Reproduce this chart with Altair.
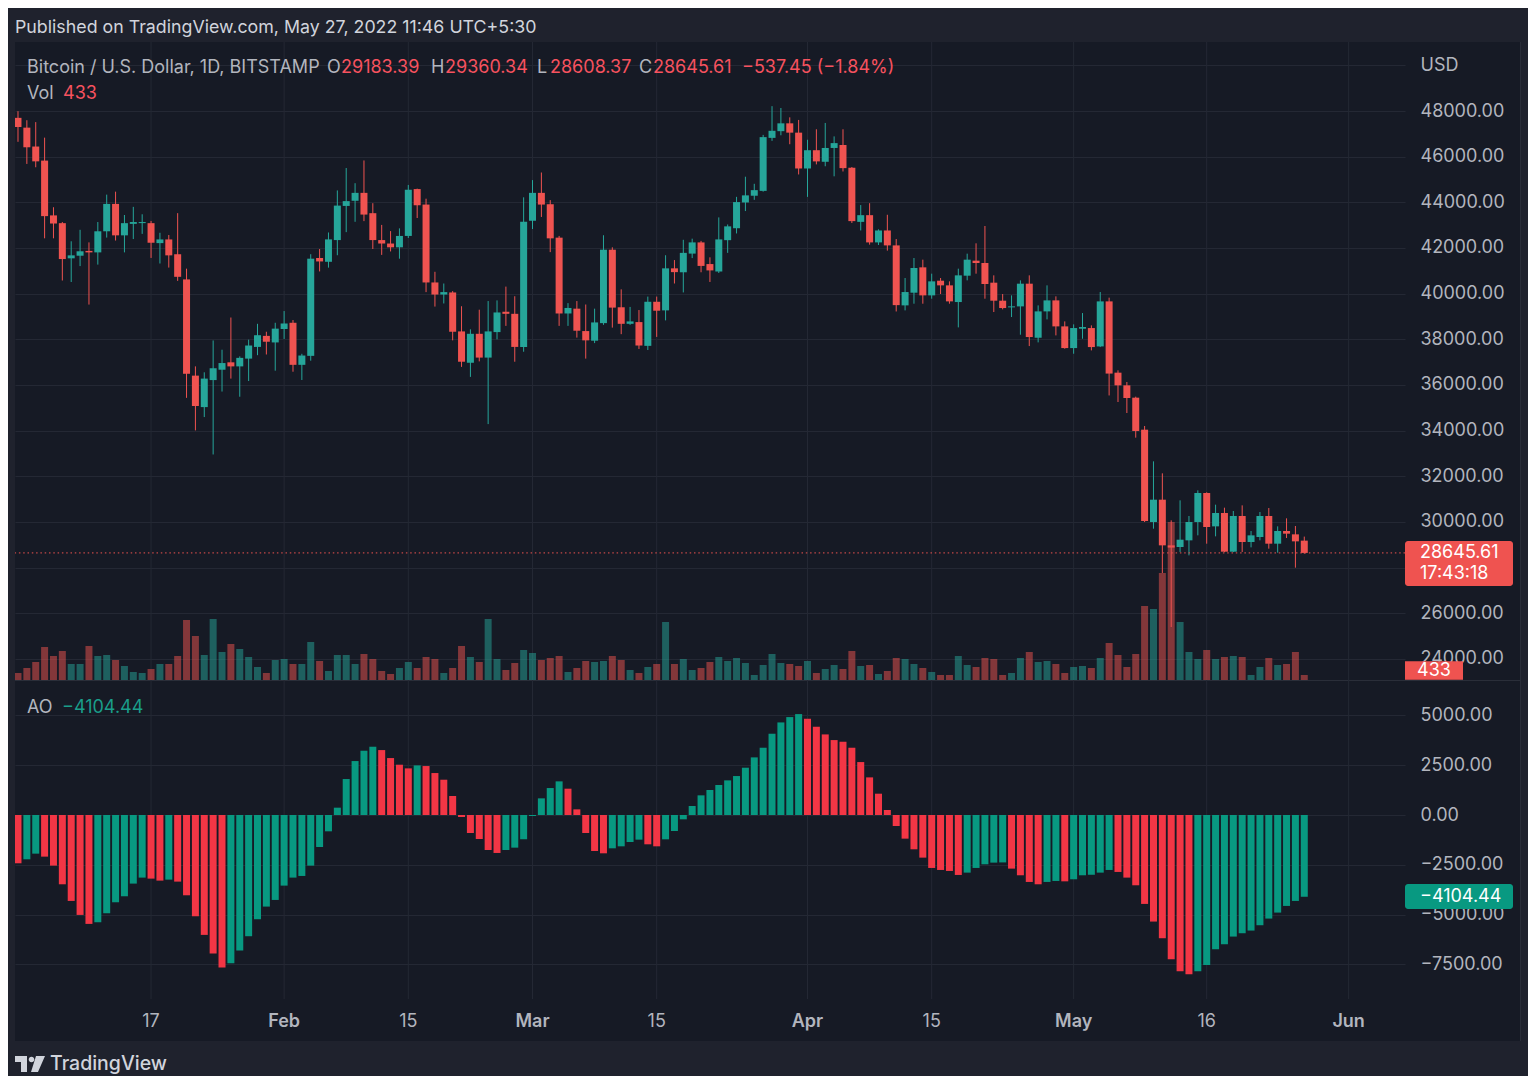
import altair as alt
import pandas as pd

# ---------------- data (BTC/USD daily, Bitstamp, 2 Jan - 27 May 2022) ----------------
dates = pd.date_range("2022-01-02", "2022-05-27", freq="D")
day = [(d - pd.Timestamp("2022-01-01")).days for d in dates]  # x position: days since 1 Jan

opens = [47700, 47271, 46444, 45828, 43428, 43088, 41548, 41662, 41872, 41808,
         42732, 43931, 42554, 43057, 43090, 43088, 42214, 42375, 41727, 40624,
         36410, 35032, 36215, 36669, 36993, 36815, 37155, 37668, 38151, 37864,
         38453, 38725, 36883, 37276, 41562, 41396, 42347, 43842, 44068, 44415,
         43525, 42347, 42196, 42030, 42528, 44581, 43902, 40491, 39962, 40053,
         38347, 36974, 38242, 37200, 38317, 39208, 39117, 37668, 43193, 44415,
         43917, 42453, 39132, 39343, 38362, 37940, 38710, 41925, 39404, 38679,
         38755, 37714, 39645, 39268, 41109, 40937, 41754, 42245, 41297, 40970,
         42343, 42866, 43994, 44289, 44501, 46823, 47117, 47460, 47052, 45482,
         46283, 45776, 46381, 46512, 45515, 43144, 43438, 42245, 42768, 42114,
         39487, 40042, 41153, 39925, 40568, 40364, 39633, 40787, 41445, 41343,
         40481, 39692, 39400, 39443, 40437, 38070, 39224, 39706, 38567, 37617,
         38465, 38494, 37690, 39662, 36540, 35985, 35445, 34043, 29999, 30977,
         28977, 28904, 29196, 29999, 31269, 29809, 30393, 28700, 30262, 29123,
         29342, 30262, 29050, 29605, 29459, 29183.39]
highs = [47990, 47595, 47514, 46833, 43785, 43137, 42294, 42797, 42246, 43137,
         44337, 44467, 43445, 43802, 43477, 43185, 42667, 42570, 43526, 41095,
         36815, 36556, 37950, 37545, 38955, 37253, 37985, 38679, 38332, 38725,
         39238, 38845, 37366, 41728, 41955, 42679, 44521, 45502, 44838, 45834,
         43962, 43011, 42740, 42860, 44762, 44600, 44159, 40958, 40445, 40113,
         39449, 38438, 39298, 39676, 39706, 40309, 39887, 44219, 44974, 45306,
         44098, 42528, 39585, 39676, 39525, 39343, 42558, 42030, 40189, 39419,
         39283, 39872, 39872, 41683, 41472, 42359, 42408, 42310, 41591, 43340,
         43030, 44240, 45122, 44812, 46954, 48212, 48131, 47722, 47608, 46741,
         47199, 47477, 46888, 47199, 45548, 43880, 43962, 42817, 43455, 42392,
         40685, 41562, 41489, 40875, 40685, 40539, 41094, 41752, 42205, 42964,
         40802, 39984, 39925, 40583, 40802, 39487, 40364, 39882, 38786, 38655,
         39151, 38611, 40071, 39825, 36642, 36131, 35489, 34204, 32656, 32131,
         30072, 30948, 30262, 31386, 31300, 30758, 30627, 30481, 30729, 29605,
         30437, 30612, 29809, 30160, 29824, 29360.34]
lows = [46650, 45682, 45536, 42424, 42424, 40576, 40511, 41208, 39522, 41273,
        42456, 42327, 41808, 42392, 42618, 41565, 41321, 41143, 40560, 35437,
        34011, 34595, 32957, 35713, 36280, 35486, 36174, 37306, 37336, 36627,
        38015, 36581, 36219, 37064, 40974, 41140, 41683, 42694, 43147, 43177,
        41955, 41698, 41849, 41532, 42438, 43313, 40068, 39434, 39570, 37955,
        36793, 36355, 37034, 34287, 38000, 38589, 37019, 37457, 42830, 43359,
        41819, 38589, 38589, 38075, 37155, 37834, 38634, 38513, 38226, 38634,
        37578, 37532, 38106, 38830, 40445, 40054, 41558, 40937, 40512, 40904,
        41787, 42637, 43618, 44109, 44468, 46692, 46937, 46545, 45221, 44239,
        45662, 45580, 45139, 45351, 43095, 42768, 42147, 42130, 41885, 39220,
        39268, 39560, 39560, 39779, 39984, 39560, 38523, 40583, 40875, 39779,
        39195, 39312, 38976, 38202, 37705, 37866, 38874, 38172, 37588, 37369,
        38026, 37515, 37661, 35542, 35255, 34773, 33693, 29999, 29707, 27765,
        25400, 28685, 28539, 29415, 29050, 29371, 28680, 28680, 28685, 28889,
        29196, 28831, 28656, 29298, 27999, 28608.37]
closes = [47300, 46411, 45795, 43396, 43072, 41516, 41678, 41856, 41808, 42732,
          43931, 42554, 43088, 43137, 43137, 42230, 42375, 41678, 40738, 36491,
          35081, 36280, 36734, 36961, 36815, 37188, 37729, 38181, 37895, 38468,
          38694, 36883, 37291, 41532, 41411, 42377, 43857, 44053, 44415, 43464,
          42347, 42196, 42030, 42528, 44551, 43872, 40491, 39962, 40068, 38332,
          37019, 38242, 37200, 38347, 39177, 39117, 37668, 43147, 44415, 43902,
          42423, 39132, 39374, 38377, 37955, 38740, 41925, 39389, 38679, 38785,
          37729, 39645, 39253, 41109, 40943, 41787, 42245, 41215, 41019, 42376,
          42948, 44011, 44305, 44534, 46856, 47133, 47460, 47052, 45482, 46283,
          45793, 46381, 46594, 45498, 43177, 43438, 42245, 42768, 42114, 39498,
          40071, 41123, 39925, 40539, 40364, 39662, 40802, 41489, 41343, 40422,
          39692, 39370, 39443, 40437, 38100, 39224, 39706, 38567, 37617, 38494,
          38538, 37661, 39662, 36500, 35985, 35430, 33985, 30043, 30977, 28977,
          28880, 29225, 29999, 31269, 29780, 30393, 28700, 30262, 29123, 29415,
          30262, 29050, 29605, 29488, 29152, 28645.61]
volumes = [609, 1044, 1566, 2871, 2088, 2523, 1392, 1392, 2958, 2088,
           2175, 1740, 1218, 696, 609, 957, 1392, 1392, 2088, 5220,
           3828, 2175, 5307, 2436, 3132, 2697, 2001, 1131, 609, 1740,
           1827, 1392, 1392, 3306, 1653, 783, 2175, 2175, 1392, 2262,
           1827, 783, 522, 1044, 1566, 1044, 2001, 1827, 609, 1044,
           2958, 2001, 1566, 5307, 1827, 870, 1479, 2610, 2349, 1740,
           1914, 2088, 696, 1044, 1653, 1566, 1653, 2088, 1740, 870,
           609, 1131, 1392, 5046, 1392, 1827, 870, 1044, 1566, 2001,
           1653, 1914, 1479, 435, 1305, 2262, 1479, 1392, 1218, 1653,
           609, 957, 1305, 957, 2523, 1218, 1305, 522, 783, 1914,
           1827, 1392, 1044, 696, 435, 435, 2088, 1305, 1131, 1914,
           1827, 435, 609, 1914, 2436, 1566, 1653, 1392, 609, 1131,
           1218, 1044, 1914, 3219, 2175, 1131, 2262, 6438, 6177, 9309,
           13746, 5046, 2436, 1827, 2610, 1827, 2001, 2088, 2001, 435,
           1131, 1914, 1305, 1392, 2436, 433]
ao = [-2424, -2224, -1940, -2090, -2541, -3478, -4314, -5016, -5467, -5384,
      -4932, -4381, -4080, -3444, -3143, -3194, -3294, -3244, -3344, -4030,
      -5083, -6019, -6956, -7658, -7440, -6805, -6086, -5233, -4598, -4264,
      -3545, -3143, -3060, -2541, -1605, -819, 368, 1806, 2709, 3227,
      3428, 3260, 2859, 2525, 2341, 2491, 2458, 2107, 1772, 953,
      -100, -903, -1204, -1756, -1906, -1756, -1639, -1221, -50, 836,
      1354, 1689, 1321, 284, -903, -1806, -1923, -1672, -1572, -1354,
      -1237, -1471, -1572, -1221, -803, -217, 451, 987, 1254, 1505,
      1739, 1956, 2374, 2893, 3377, 4080, 4648, 4916, 5066, 4832,
      4431, 4046, 3762, 3678, 3377, 2658, 1889, 1070, 251, -552,
      -1187, -1722, -2140, -2658, -2759, -2809, -3010, -2893, -2658, -2475,
      -2391, -2380, -2692, -3026, -3361, -3478, -3361, -3311, -3330, -3227,
      -3026, -3000, -2893, -2759, -2859, -3143, -3528, -4464, -5350, -6186,
      -7240, -7842, -7992, -7842, -7524, -6738, -6487, -6103, -5936, -5802,
      -5534, -5200, -4899, -4565, -4314, -4104.44]

x_tick_days = [16, 31, 45, 59, 73, 90, 104, 120, 135, 151]
x_tick_labels = ["17", "Feb", "15", "Mar", "15", "Apr", "15", "May", "16", "Jun"]
x_tick_is_month = [False, True, False, True, False, True, False, True, False, True]
price_ticks = list(range(24000, 50001, 2000))
ao_ticks = [-7500, -5000, -2500, 0, 2500, 5000]

last_price = 28645.61
last_volume = 433
last_ao = -4104.44

# ---------------- styling ----------------
FONT = "Inter"
FS = 18
BG_IN = "#161a25"
BG_OUT = "#1f222d"
GRID = "#242834"
SEP = "#2a2e39"
TXT = "#b2b5be"
TXT2 = "#d1d4dc"
UP = "#26a69a"
DOWN = "#ef5350"
AO_UP = "#089981"
AO_DOWN = "#f23645"
RED_T = "#f7525f"
GREEN_T = "#1a9e8a"

W, H = 1390, 957

df = pd.DataFrame({"d": day, "open": opens, "high": highs, "low": lows,
                   "close": closes, "vol": volumes, "ao": ao})
df["zero"] = 0
df["up"] = df["close"] >= df["open"]
df["ao_up"] = df["ao"].diff().fillna(-1) >= 0

ticks_df = pd.DataFrame({"d": x_tick_days, "lab": x_tick_labels, "month": x_tick_is_month})

x_scale = alt.Scale(domain=[1.227, 156.79], nice=False, zero=False)
price_scale = alt.Scale(domain=[23036, 51022], range=[639, 0], nice=False, zero=False)
vol_scale = alt.Scale(domain=[0, 55506], range=[638, 0], nice=False, zero=False)
ao_scale = alt.Scale(domain=[-9237, 6627], range=[957, 641], nice=False, zero=False)

price_axis = alt.Axis(orient="right", values=price_ticks,
                      labelExpr="datum.value == 50000 ? 'USD' : (datum.value == 28000 ? '' : format(datum.value, '.2f'))",
                      grid=True, gridColor=GRID, ticks=False, tickSize=0, domain=False,
                      labelColor=TXT, labelFont=FONT, labelFontSize=FS, labelPadding=15,
                      labelOverlap=False, title=None)
ao_axis = alt.Axis(orient="right", values=ao_ticks,
                   labelExpr="replace(format(datum.value, '.2f'), '-', '\u2212')",
                   grid=True, gridColor=GRID, ticks=False, tickSize=0, domain=False,
                   labelColor=TXT, labelFont=FONT, labelFontSize=FS, labelPadding=15,
                   labelOverlap=False, title=None)

base = alt.Chart(df)
X = alt.X("d:Q", scale=x_scale, axis=None)
cond_col = alt.condition("datum.up", alt.value(UP), alt.value(DOWN))

# vertical time grid + time labels (drawn through the x scale)
vgrid = alt.Chart(ticks_df).mark_rule(color=GRID, strokeWidth=1).encode(
    x=X, y=alt.value(0), y2=alt.value(H))
xlab_day = alt.Chart(ticks_df).transform_filter("!datum.month").mark_text(
    align="center", baseline="middle", font=FONT, fontSize=FS, color=TXT).encode(
    x=X, y=alt.value(H + 23), text="lab:N")
xlab_mon = alt.Chart(ticks_df).transform_filter("datum.month").mark_text(
    align="center", baseline="middle", font=FONT, fontSize=FS, fontWeight=600, color=TXT).encode(
    x=X, y=alt.value(H + 23), text="lab:N")

volume = base.mark_bar(size=7, opacity=0.5, clip=True).encode(
    x=X, y=alt.Y("vol:Q", scale=vol_scale, axis=None), y2="zero:Q", color=cond_col)
wicks = base.mark_rule(strokeWidth=1, clip=True).encode(
    x=X, y=alt.Y("low:Q", scale=price_scale, axis=price_axis), y2="high:Q", color=cond_col)
bodies = base.mark_bar(size=7, clip=True).encode(
    x=X, y=alt.Y("open:Q", scale=price_scale, axis=None), y2="close:Q", color=cond_col)
ao_bars = base.mark_bar(size=7, clip=True).encode(
    x=X, y=alt.Y("ao:Q", scale=ao_scale, axis=ao_axis), y2="zero:Q",
    color=alt.condition("datum.ao_up", alt.value(AO_UP), alt.value(AO_DOWN)))

pdf = pd.DataFrame({"p": [last_price]})
vdf = pd.DataFrame({"v": [last_volume]})
adf = pd.DataFrame({"a": [last_ao]})

last_line = alt.Chart(pdf).mark_rule(color=DOWN, strokeDash=[1.5, 2.8], strokeWidth=1).encode(
    y=alt.Y("p:Q", scale=price_scale, axis=None))
price_box = alt.Chart(pdf).mark_rect(color=DOWN, yOffset=-12, y2Offset=33, cornerRadius=3).encode(
    x=alt.value(W), x2=alt.value(W + 108),
    y=alt.Y("p:Q", scale=price_scale, axis=None), y2="p:Q")
price_txt1 = alt.Chart(pdf).mark_text(text="28645.61", align="left", baseline="middle", font=FONT,
                                      fontSize=FS, color="#ffffff").encode(
    x=alt.value(W + 15), y=alt.Y("p:Q", scale=price_scale, axis=None))
price_txt2 = alt.Chart(pdf).mark_text(text="17:43:18", align="left", baseline="middle", font=FONT,
                                      fontSize=FS, color="#ffffff", dy=21).encode(
    x=alt.value(W + 15), y=alt.Y("p:Q", scale=price_scale, axis=None))
vol_box = alt.Chart(vdf).mark_rect(color=DOWN, yOffset=-13.7, y2Offset=4.7).encode(
    x=alt.value(W), x2=alt.value(W + 58),
    y=alt.Y("v:Q", scale=vol_scale, axis=None), y2="v:Q")
vol_txt = alt.Chart(vdf).mark_text(text="433", align="center", baseline="middle", font=FONT,
                                   fontSize=FS, color="#ffffff", dy=-4.5).encode(
    x=alt.value(W + 29), y=alt.Y("v:Q", scale=vol_scale, axis=None))
ao_box = alt.Chart(adf).mark_rect(color=AO_UP, yOffset=-12.8, y2Offset=12.2, cornerRadius=3).encode(
    x=alt.value(W), x2=alt.value(W + 108),
    y=alt.Y("a:Q", scale=ao_scale, axis=None), y2="a:Q")
ao_txt = alt.Chart(adf).mark_text(text="\u22124104.44", align="left", baseline="middle", font=FONT,
                                  fontSize=FS, color="#ffffff").encode(
    x=alt.value(W + 15), y=alt.Y("a:Q", scale=ao_scale, axis=None))

one = pd.DataFrame({"k": [0]})


def rect(x1, x2, y1, y2, color):
    return alt.Chart(one).mark_rect(color=color).encode(
        x=alt.value(x1), x2=alt.value(x2), y=alt.value(y1), y2=alt.value(y2))


def label(txt, x, y, color, size=FS, weight=400, align="left"):
    return alt.Chart(one).mark_text(text=txt, align=align, baseline="middle", font=FONT,
                                    fontSize=size, fontWeight=weight, color=color).encode(
        x=alt.value(x), y=alt.value(y))


frame = [
    rect(-15, 1521, -42, 0, BG_OUT),
    rect(-15, 0, 0, 1052, BG_OUT),
    rect(1505, 1521, 0, 1052, BG_OUT),
    rect(-15, 1521, 999, 1052, BG_OUT),
]
separator = alt.Chart(one).mark_rule(color=SEP, strokeWidth=1).encode(
    y=alt.value(638.5), x=alt.value(0), x2=alt.value(1505))
border_r = alt.Chart(one).mark_rule(color=SEP, strokeWidth=1).encode(
    x=alt.value(1505.5), y=alt.value(0), y2=alt.value(999))

texts = [
    label("Published on TradingView.com, May 27, 2022 11:46 UTC+5:30", 0, -14, TXT2, 17.8),
    label("Bitcoin / U.S. Dollar, 1D, BITSTAMP", 12, 26, TXT),
    label("O", 312, 26, TXT), label("29183.39", 326, 26, RED_T),
    label("H", 416, 26, TXT), label("29360.34", 430, 26, RED_T),
    label("L", 522, 26, TXT), label("28608.37", 535, 26, RED_T),
    label("C", 624, 26, TXT), label("28645.61", 638, 26, RED_T),
    label("\u2212537.45 (\u22121.84%)", 727, 26, RED_T),
    label("Vol", 12, 52, TXT), label("433", 48, 52, RED_T),
    label("AO", 12, 666, TXT), label("\u22124104.44", 47, 666, GREEN_T),
    label("TradingView", 35, 1022, TXT2, 19.5, 500),
]

logo_path = ("M-1,-0.533 L-0.2,-0.533 L-0.2,0.533 L-0.6,0.533 L-0.6,-0.133 L-1,-0.133 Z "
             "M-0.087,-0.3 A0.187,0.187 0 1,0 0.287,-0.3 A0.187,0.187 0 1,0 -0.087,-0.3 Z "
             "M0.4,-0.533 L1,-0.533 L0.533,0.533 L0.067,0.533 Z")
logo = alt.Chart(one).mark_point(shape=logo_path, filled=True, size=900, color=TXT2,
                                 opacity=1, strokeWidth=0).encode(
    x=alt.value(15), y=alt.value(1022))

# total SVG = 1520 x 1068 so it fits inside the page body (8px margins) without rescaling
chart = alt.layer(
    *frame, separator, border_r, vgrid, xlab_day, xlab_mon,
    volume, wicks, bodies, last_line, ao_bars,
    price_box, price_txt1, price_txt2, vol_box, vol_txt, ao_box, ao_txt,
    *texts, logo,
).resolve_scale(y="independent").properties(
    width=W, height=H,
    padding={"left": 7, "top": 34, "right": 123, "bottom": 77},
    autosize=alt.AutoSizeParams(type="none"),
    background=BG_IN,
).configure_view(stroke=None)

chart.save("out.html", embed_options={"renderer": "svg", "actions": False})
